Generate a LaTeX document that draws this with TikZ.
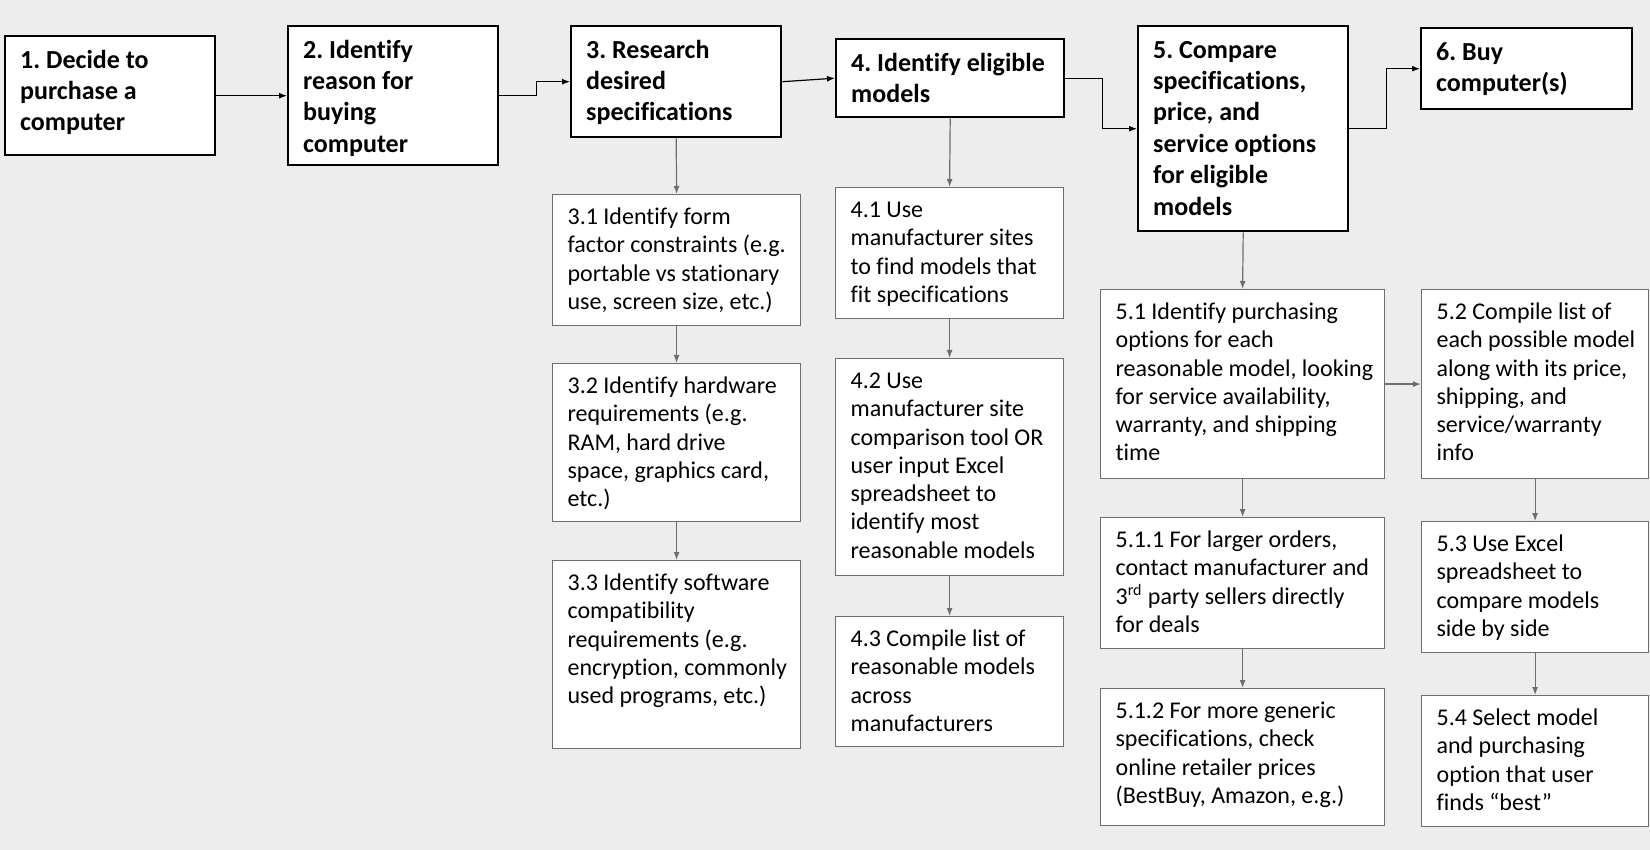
\documentclass[tikz,border=0pt]{standalone}
\usepackage{fontspec}
\setmainfont{Carlito}[Ligatures={TeX,NoCommon}]
\usepackage{tikz}
\usetikzlibrary{arrows.meta}
\frenchspacing

\definecolor{bggray}{RGB}{237,237,237}
\definecolor{taskline}{RGB}{110,110,110}

% box text: outer width, outer height (pt), lines
\newcommand{\boxlines}[3]{\parbox[b][\dimexpr#2-10pt\relax][t]{\dimexpr#1-15pt\relax}{\begin{tabular}{@{}l@{}}#3\end{tabular}}}

\tikzset{
  stage/.style={draw=black, line width=1.2pt, fill=white, anchor=north west, inner xsep=7.5pt, inner ysep=5pt, font=\fontsize{13}{15.7}\selectfont\bfseries},
  task/.style={draw=taskline, line width=0.6pt, fill=white, anchor=north west, inner xsep=7.5pt, inner ysep=5pt, font=\fontsize{12}{14.15}\selectfont},
  flow/.style={draw=black, line width=0.6pt, -{Latex[length=4pt,width=3pt]}},
  subflow/.style={draw=taskline, line width=0.6pt, -{Latex[length=4pt,width=3pt]}}
}

\begin{document}
\begin{tikzpicture}[x=0.5pt, y=-0.5pt]
\fill[bggray] (0,0) rectangle (1650,850);
\useasboundingbox (0,0) rectangle (1650,850);

% main steps
\node[stage] (s1) at (4,35) {\boxlines{105pt}{59.5pt}{1. Decide to\\purchase a\\computer}};
\node[stage] (s2) at (287,25) {\boxlines{105pt}{69.5pt}{2. Identify\\reason for\\buying\\computer}};
\node[stage] (s3) at (570,25) {\boxlines{105pt}{55.5pt}{3. Research\\desired\\specifications}};
\node[stage] (s4) at (835,38) {\boxlines{114pt}{39pt}{4. Identify eligible\\models}};
\node[stage] (s5) at (1137,25) {\boxlines{105pt}{102.5pt}{5. Compare\\specifications,\\price, and\\service options\\for eligible\\models}};
\node[stage] (s6) at (1420,27) {\boxlines{105.5pt}{40.5pt}{6. Buy\\computer(s)}};

% sub steps of 3
\node[task] (s31) at (552,194) {\boxlines{124pt}{65.5pt}{3.1 Identify form\\factor constraints (e.g.\\portable vs stationary\\use, screen size, etc.)}};
\node[task] (s32) at (552,363) {\boxlines{124pt}{79pt}{3.2 Identify hardware\\requirements (e.g.\\RAM, hard drive\\space, graphics card,\\etc.)}};
\node[task] (s33) at (552,560) {\boxlines{124pt}{94pt}{3.3 Identify software\\compatibility\\requirements (e.g.\\encryption, commonly\\used programs, etc.)}};

% sub steps of 4
\node[task] (s41) at (835,187) {\boxlines{114pt}{65.5pt}{4.1 Use\\manufacturer sites\\to find models that\\fit specifications}};
\node[task] (s42) at (835,358) {\boxlines{114pt}{108.5pt}{4.2 Use\\manufacturer site\\comparison tool OR\\user input Excel\\spreadsheet to\\identify most\\reasonable models}};
\node[task] (s43) at (835,616) {\boxlines{114pt}{65pt}{4.3 Compile list of\\reasonable models\\across\\manufacturers}};

% sub steps of 5
\node[task] (s51) at (1100,289) {\boxlines{142pt}{94.5pt}{5.1 Identify purchasing\\options for each\\reasonable model, looking\\for service availability,\\warranty, and shipping\\time}};
\node[task] (s52) at (1421,289) {\boxlines{113.5pt}{94.5pt}{5.2 Compile list of\\each possible model\\along with its price,\\shipping, and\\service/warranty\\info}};
\node[task] (s511) at (1100,517) {\boxlines{142pt}{65.5pt}{5.1.1 For larger orders,\\contact manufacturer and\\3\textsuperscript{rd} party sellers directly\\for deals}};
\node[task] (s512) at (1100,688) {\boxlines{142pt}{68.5pt}{5.1.2 For more generic\\specifications, check\\online retailer prices\\(BestBuy, Amazon, e.g.)}};
\node[task] (s53) at (1421,521) {\boxlines{113.5pt}{65.5pt}{5.3 Use Excel\\spreadsheet to\\compare models\\side by side}};
\node[task] (s54) at (1421,695) {\boxlines{113.5pt}{65.5pt}{5.4 Select model\\and purchasing\\option that user\\finds “best”}};

% main flow
\draw[flow] (s1.east) -- (s2.west);
\draw[flow] (s2.east) -- ++(37,0) |- (s3.west);
\draw[flow] (s3.east) -- (s4.west);
\draw[flow] (s4.east) -- ++(37,0) |- (s5.west);
\draw[flow] (s5.east) -- ++(37,0) |- (s6.west);

% sub flows
\draw[subflow] (s3.south) -- (s31.north);
\draw[subflow] (s31.south) -- (s32.north);
\draw[subflow] (s32.south) -- (s33.north);
\draw[subflow] (s4.south) -- (s41.north);
\draw[subflow] (s41.south) -- (s42.north);
\draw[subflow] (s42.south) -- (s43.north);
\draw[subflow] (s5.south) -- (s51.north);
\draw[subflow] (s51.south) -- (s511.north);
\draw[subflow] (s511.south) -- (s512.north);
\draw[subflow] (s51.east) -- (s52.west);
\draw[subflow] (s52.south) -- (s53.north);
\draw[subflow] (s53.south) -- (s54.north);

\end{tikzpicture}
\end{document}
